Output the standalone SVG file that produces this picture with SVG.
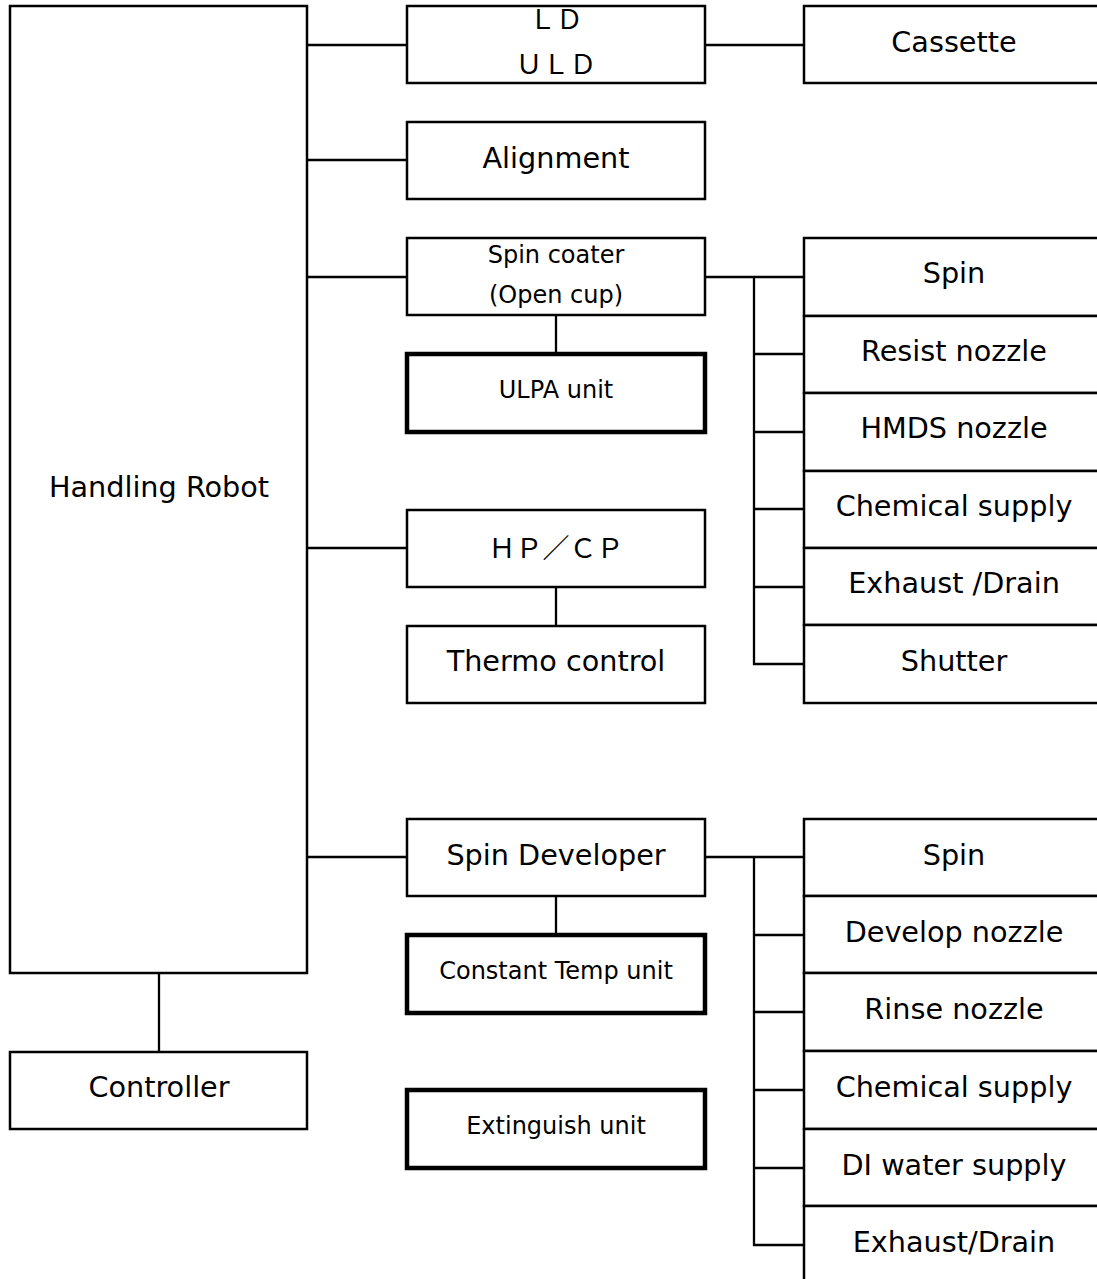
<svg xmlns="http://www.w3.org/2000/svg" width="1097" height="1279" viewBox="0 0 1097 1279">
<style>
rect{fill:#fff;stroke:#000;stroke-width:2.5}
rect.thick{stroke-width:4.5}
#connectors line, #connectors polyline{stroke:#000;stroke-width:2.3;fill:none}
text{font-family:"DejaVu Sans","Verdana",sans-serif;fill:#000;text-anchor:middle}
.m{font-size:28.7px}
.s{font-size:24px}
.j{font-family:"Noto Sans CJK JP","DejaVu Sans",sans-serif;font-size:27px}
</style>
<rect x="0" y="0" width="1097" height="1279" style="stroke:none"/>
<g id="connectors">
<line x1="307" y1="45" x2="407" y2="45"/>
<line x1="705" y1="45" x2="804" y2="45"/>
<line x1="307" y1="160" x2="407" y2="160"/>
<line x1="307" y1="277" x2="407" y2="277"/>
<line x1="307" y1="548" x2="407" y2="548"/>
<line x1="307" y1="857" x2="407" y2="857"/>
<line x1="159" y1="973" x2="159" y2="1052"/>
<line x1="556" y1="315" x2="556" y2="354"/>
<line x1="556" y1="587" x2="556" y2="626"/>
<line x1="556" y1="896" x2="556" y2="935"/>
<line x1="705" y1="277" x2="804" y2="277"/>
<polyline points="754,277 754,664 804,664"/>
<line x1="754" y1="354" x2="804" y2="354"/>
<line x1="754" y1="432" x2="804" y2="432"/>
<line x1="754" y1="509" x2="804" y2="509"/>
<line x1="754" y1="587" x2="804" y2="587"/>
<line x1="705" y1="857" x2="804" y2="857"/>
<polyline points="754,857 754,1245 804,1245"/>
<line x1="754" y1="935" x2="804" y2="935"/>
<line x1="754" y1="1012" x2="804" y2="1012"/>
<line x1="754" y1="1090" x2="804" y2="1090"/>
<line x1="754" y1="1168" x2="804" y2="1168"/>
</g>
<g id="robot"><rect x="10" y="6" width="297" height="967"/><text class="m" x="159" y="497">Handling Robot</text></g>
<g id="controller"><rect x="10" y="1052" width="297" height="77"/><text class="m" x="159" y="1097">Controller</text></g>
<g id="ld-uld"><rect x="407" y="6" width="298" height="77"/><text class="j" x="556" y="29">ＬＤ</text><text class="j" x="556" y="74">ＵＬＤ</text></g>
<g id="cassette"><rect x="804" y="6" width="320" height="77"/><text class="m" x="954" y="52">Cassette</text></g>
<g id="alignment"><rect x="407" y="122" width="298" height="77"/><text class="m" x="556" y="168">Alignment</text></g>
<g id="spin-coater"><rect x="407" y="238" width="298" height="77"/><text class="s" x="556" y="263">Spin coater</text><text class="s" x="556" y="303">(Open cup)</text></g>
<g id="ulpa"><rect class="thick" x="407" y="354" width="298" height="78"/><text class="s" x="556" y="398">ULPA unit</text></g>
<g id="hpcp"><rect x="407" y="510" width="298" height="77"/><text class="j" x="556" y="558">ＨＰ／ＣＰ</text></g>
<g id="thermo"><rect x="407" y="626" width="298" height="77"/><text class="m" x="556" y="671">Thermo control</text></g>
<g id="spin-developer"><rect x="407" y="819" width="298" height="77"/><text class="m" x="556" y="865">Spin Developer</text></g>
<g id="const-temp"><rect class="thick" x="407" y="935" width="298" height="78"/><text class="s" x="556" y="979">Constant Temp unit</text></g>
<g id="extinguish"><rect class="thick" x="407" y="1090" width="298" height="78"/><text class="s" x="556" y="1134">Extinguish unit</text></g>
<g id="c-spin"><rect x="804" y="238" width="320" height="78"/><text class="m" x="954" y="283">Spin</text></g>
<g id="c-resist"><rect x="804" y="316" width="320" height="77"/><text class="m" x="954" y="361">Resist nozzle</text></g>
<g id="c-hmds"><rect x="804" y="393" width="320" height="78"/><text class="m" x="954" y="438">HMDS nozzle</text></g>
<g id="c-chem"><rect x="804" y="471" width="320" height="77"/><text class="m" x="954" y="516">Chemical supply</text></g>
<g id="c-exhaust"><rect x="804" y="548" width="320" height="77"/><text class="m" x="954" y="593">Exhaust /Drain</text></g>
<g id="c-shutter"><rect x="804" y="625" width="320" height="78"/><text class="m" x="954" y="671">Shutter</text></g>
<g id="d-spin"><rect x="804" y="819" width="320" height="77"/><text class="m" x="954" y="865">Spin</text></g>
<g id="d-develop"><rect x="804" y="896" width="320" height="77"/><text class="m" x="954" y="942">Develop nozzle</text></g>
<g id="d-rinse"><rect x="804" y="973" width="320" height="78"/><text class="m" x="954" y="1019">Rinse nozzle</text></g>
<g id="d-chem"><rect x="804" y="1051" width="320" height="78"/><text class="m" x="954" y="1097">Chemical supply</text></g>
<g id="d-di"><rect x="804" y="1129" width="320" height="77"/><text class="m" x="954" y="1175">DI water supply</text></g>
<g id="d-exhaust"><rect x="804" y="1206" width="320" height="100"/><text class="m" x="954" y="1252">Exhaust/Drain</text></g>
</svg>
